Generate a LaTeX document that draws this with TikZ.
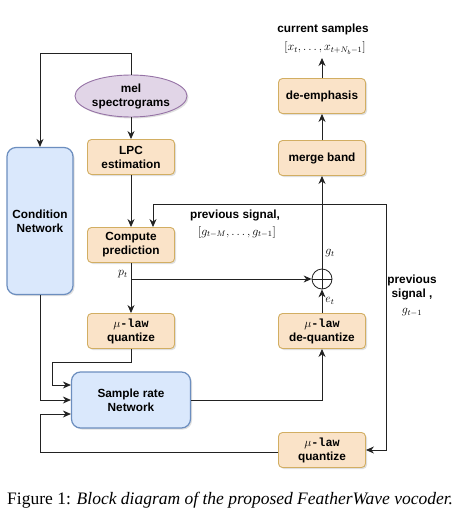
\documentclass[tikz,border=0pt]{standalone}
\usepackage{fontspec}
\setmainfont{Liberation Serif}
\setsansfont{Liberation Sans}
\setmonofont{Liberation Mono}
\usetikzlibrary{arrows.meta,positioning,shapes.geometric,shadows}
\definecolor{fwpeach}{HTML}{FAE3C8}
\definecolor{fwpeachline}{HTML}{D2AE62}
\definecolor{fwblue}{HTML}{DAE8FC}
\definecolor{fwblueline}{HTML}{6C8EBF}
\definecolor{fwpurple}{HTML}{E1D5E7}
\definecolor{fwpurpleline}{HTML}{9673A6}
\definecolor{fwline}{HTML}{222222}

\tikzset{
  shade/.style={drop shadow={opacity=0.25, shadow xshift=1.5pt, shadow yshift=-1.5pt}},
  block/.style={draw=fwpeachline, fill=fwpeach, line width=0.9pt, rounded corners=4pt,
    minimum width=87pt, minimum height=35pt, align=center, inner sep=1pt,
    font=\sffamily\bfseries\fontsize{11.8}{14}\selectfont, shade},
  netbox/.style={draw=fwblueline, fill=fwblue, line width=1.2pt, rounded corners=9pt,
    align=center, font=\sffamily\bfseries\fontsize{11.8}{14}\selectfont, shade},
  link/.style={-{Stealth[length=8pt,width=7pt]}, draw=fwline, line width=0.8pt},
  lbl/.style={font=\sffamily\bfseries\fontsize{11.8}{14}\selectfont, align=center, inner sep=1pt},
  mlbl/.style={font=\fontsize{11.5}{13}\selectfont, inner sep=1pt},
}

\begin{document}
\begin{tikzpicture}[x=1pt, y=-1pt]
  \useasboundingbox[fill=white] (0,0) rectangle (476,519);

  % left column
  \node[ellipse, draw=fwpurpleline, fill=fwpurple, line width=0.9pt, minimum width=112pt,
    minimum height=42pt, inner sep=0pt, align=center, shade,
    font=\sffamily\bfseries\fontsize{11.8}{14}\selectfont] (mel) at (131,96) {mel\\spectrograms};
  \node[block] (lpc) at (131,157) {LPC\\estimation};
  \node[block] (pred) at (131,245) {Compute\\prediction};
  \node[block] (quant) at (131,331) {$\mu$\texttt{-law}\\quantize};
  \node[netbox, minimum width=66pt, minimum height=147pt] (cond) at (40,221) {Condition\\Network};
  \node[netbox, minimum width=119pt, minimum height=56pt] (srnet) at (131,400) {Sample rate\\Network};

  % right column
  \node[block] (deemph) at (322,96) {de-emphasis};
  \node[block] (merge) at (322,158) {merge band};
  \node[circle, draw=fwline, line width=0.8pt, minimum size=20pt, inner sep=0pt] (plus) at (322,279) {};
  \draw[fwline, line width=0.8pt] (plus.north) -- (plus.south) (plus.west) -- (plus.east);
  \node[block] (dequant) at (322,331) {$\mu$\texttt{-law}\\de-quantize};
  \node[block] (quantb) at (322,450) {$\mu$\texttt{-law}\\quantize};

  \node[lbl] (outlbl) at (323,29) {current samples};
  \node[mlbl] (outmath) at (325,48) {$[x_t,\ldots,x_{t+N_b-1}]$};
  \node[lbl] (prevlbl) at (235,215) {previous signal,};
  \node[mlbl] (prevmath) at (237,232) {$[g_{t-M},\ldots,g_{t-1}]$};
  \node[lbl] (prevr) at (412,287) {previous\\signal ,};
  \node[mlbl] (prevrmath) at (412,312) {$g_{t-1}$};

  \coordinate (topturn) at (131,53);
  \coordinate (outtop) at (322,58);
  \coordinate (fbtop) at (386,204);
  \coordinate (pbranch) at (131,279);
  \coordinate (botleft) at (40,452);

  \draw[link] (mel) -- (topturn) -| (cond.north);
  \draw[link] (mel) -- (lpc);
  \draw[link] (lpc) -- (pred);
  \draw[link] (fbtop) -| ([xshift=22pt]pred.north);
  \draw[link] (fbtop) |- (quantb.east);
  \draw[link] (pred) -- (quant) node[pos=0.23, left, mlbl, xshift=-2pt] {$p_t$};
  \draw[link] (pbranch) -- (plus);
  \draw[link] (plus) -- (merge) node[pos=0.17, right, mlbl, xshift=2pt] {$g_t$};
  \draw[link] (merge) -- (deemph);
  \draw[link] (deemph) -- (outtop);
  \draw[link] (dequant) -- (plus) node[midway, right, mlbl, xshift=2pt] {$e_t$};
  \draw[link] (srnet.east) -| (dequant.south);
  \draw[link] (quant.south) |- (52,362) |- ([yshift=15pt]srnet.west);
  \draw[link] (cond.south) |- (srnet.west);
  \draw[link] ([yshift=-2pt]quantb.west) -- (botleft) |- ([yshift=-14pt]srnet.west);

  \node[font=\fontsize{17.5}{20}\selectfont, anchor=west, inner sep=0pt] (caption) at (7,500)
    {Figure 1: \textit{Block diagram of the proposed FeatherWave vocoder.}};
\end{tikzpicture}
\end{document}
